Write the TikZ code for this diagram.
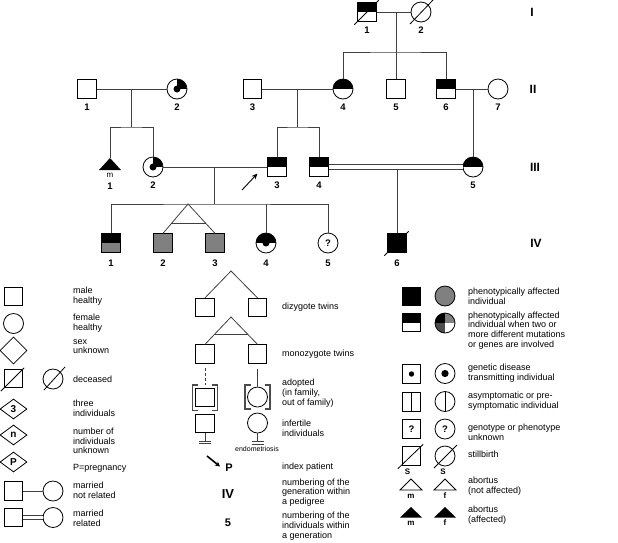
\documentclass[tikz,border=0pt]{standalone}
\usepackage{fontspec}
\setmainfont{Liberation Sans}
\usetikzlibrary{shapes.geometric,arrows.meta,calc}
\tikzset{
 sym/.style={draw=black, line width=0.8pt, inner sep=0pt, fill=white},
 msq/.style={sym, rectangle, minimum size=18.5pt},
 fci/.style={sym, circle, minimum size=20pt},
 dia/.style={sym, diamond, minimum width=27pt, minimum height=27pt},
 diaf/.style={sym, diamond, minimum width=27pt, minimum height=20pt, aspect=1.35, font=\bfseries\fontsize{10}{10}\selectfont},
 con/.style={draw=black!75, line width=0.8pt},
 slash/.style={draw=black, line width=0.8pt},
 brk/.style={draw=black!70, line width=1.3pt},
 tophalf/.style={path picture={\fill[black] (path picture bounding box.north west) rectangle (path picture bounding box.east);}},
 tophalfgray/.style={path picture={\fill[black] (path picture bounding box.north west) rectangle (path picture bounding box.east);
   \fill[gray] (path picture bounding box.west) rectangle (path picture bounding box.south east);}},
 tophalfdot/.style={path picture={\fill[black] (path picture bounding box.north west) rectangle (path picture bounding box.east);
   \fill[black] (path picture bounding box.center) circle (3.5pt);}},
 qdot/.style={path picture={\fill[black] (path picture bounding box.center) rectangle (path picture bounding box.north east);
   \fill[black] (path picture bounding box.center) circle (3.5pt);}},
 quad/.style={path picture={\fill[black] (path picture bounding box.center) rectangle (path picture bounding box.north west);
   \fill[gray] (path picture bounding box.center) rectangle (path picture bounding box.north east);
   \fill[black!70] (path picture bounding box.center) rectangle (path picture bounding box.south west);}},
 dotsm/.style={path picture={\fill[black] (path picture bounding box.center) circle (2.7pt);}},
 dotbig/.style={path picture={\fill[black] (path picture bounding box.center) circle (3.6pt);}},
 vline/.style={path picture={\draw[line width=0.8pt] (path picture bounding box.north) -- (path picture bounding box.south);}},
 qm/.style={font=\bfseries\fontsize{9.5}{10}\selectfont},
 lgt/.style={anchor=west, align=left, inner sep=0pt, font=\fontsize{9}{9.7}\selectfont},
 num/.style={inner sep=0pt, font=\bfseries\fontsize{9.5}{10}\selectfont},
 gen/.style={inner sep=0pt, font=\bfseries\fontsize{12}{12}\selectfont},
 smalllab/.style={inner sep=0pt, font=\bfseries\fontsize{8}{8}\selectfont},
}
\begin{document}
\begin{tikzpicture}[x=1pt,y=-1pt]
\useasboundingbox[fill=white] (0,0) rectangle (618,542);

% ---------------- Generation I
\node[msq,tophalf] (I1) at (367,12) {};
\node[fci] (I2) at (421,12) {};
\draw[slash] ($(I1.south west)+(-3,3)$) -- ($(I1.north east)+(2,-2)$);
\draw[slash] ($(I2.center)+(-11,12)$) -- ($(I2.center)+(12,-12)$);
\node[num] (nI1) at (367,30) {1};
\node[num] (nI2) at (421,30) {2};

% ---------------- Generation II
\node[msq] (II1) at (87,89) {};
\node[fci,qdot] (II2) at (177,89) {};
\node[msq] (II3) at (252.5,89) {};
\node[fci,tophalf] (II4) at (343,89) {};
\node[msq] (II5) at (396,89) {};
\node[msq,tophalf] (II6) at (446,89) {};
\node[fci] (II7) at (498,89) {};
\node[num] (nII1) at (87,107) {1};
\node[num] (nII2) at (177,107) {2};
\node[num] (nII3) at (252.5,107) {3};
\node[num] (nII4) at (343,107) {4};
\node[num] (nII5) at (396,107) {5};
\node[num] (nII6) at (446,107) {6};
\node[num] (nII7) at (498,107) {7};

% ---------------- Generation III
\coordinate (III1) at (110,158);
\fill (III1) -- ++(11,12) -- ++(-22,0) -- cycle;
\node[inner sep=0pt, font=\fontsize{8}{8}\selectfont] (mIII1) at (110,175.5) {m};
\node[fci,qdot] (III2) at (153,167) {};
\node[msq,tophalf] (III3) at (277,167) {};
\node[msq,tophalf] (III4) at (319,167) {};
\node[fci,tophalf] (III5) at (473,167) {};
\node[num] (nIII1) at (110,186) {1};
\node[num] (nIII2) at (153,185) {2};
\node[num] (nIII3) at (277,185) {3};
\node[num] (nIII4) at (319,185) {4};
\node[num] (nIII5) at (473,185) {5};

% ---------------- Generation IV
\node[msq,tophalfgray] (IV1) at (111,243) {};
\node[msq,fill=gray] (IV2) at (163,243) {};
\node[msq,fill=gray] (IV3) at (215,243) {};
\node[fci,tophalfdot] (IV4) at (266,243) {};
\node[fci,qm] (IV5) at (328,243) {?};
\node[msq,fill=black] (IV6) at (397,243) {};
\draw[slash] ($(IV6.south west)+(-3,3)$) -- ($(IV6.north east)+(2,-2)$);
\node[num] (nIV1) at (111,263) {1};
\node[num] (nIV2) at (163,263) {2};
\node[num] (nIV3) at (215,263) {3};
\node[num] (nIV4) at (266,263) {4};
\node[num] (nIV5) at (328,263) {5};
\node[num] (nIV6) at (397,263) {6};

% ---------------- connectors
\coordinate (m1) at (396,12); \coordinate (s1) at (396,52);
\draw[con] (I1) -- (I2);
\draw[con] (m1) -- (II5.north);
\draw[con] (II4.north) |- (s1) -| (II6.north);

\coordinate (m2) at (131,89); \coordinate (s2) at (131,127);
\draw[con] (II1) -- (II2);
\draw[con] (m2) -- (s2);
\draw[con] (III1) |- (s2) -| (III2.north);

\coordinate (m3) at (297,89); \coordinate (s3) at (297,127);
\draw[con] (II3) -- (II4);
\draw[con] (m3) -- (s3);
\draw[con] (III3.north) |- (s3) -| (III4.north);

\coordinate (m4) at (473,89);
\draw[con] (II6) -- (II7);
\draw[con] (m4) -- (III5.north);

\coordinate (m5) at (214,167); \coordinate (s5) at (214,204);
\draw[con] (III2) -- (III3);
\draw[con] (m5) -- (s5);
\draw[con] (IV1.north) |- (s5) -| (IV5.north);
\draw[con] (IV4.north) -- (IV4.north |- s5);
\coordinate (tw) at (188,204);
\draw[con] (IV2.north) -- (tw) -- (IV3.north);
\draw[con] ($(tw)!0.672!(IV2.north)$) -- ($(tw)!0.672!(IV3.north)$);

\draw[con,double,double distance=4.2pt] (III4) -- (III5);
\coordinate (m6) at (397,169.6);
\draw[con] (m6) -- (IV6.north);

\coordinate (arT) at (242,190); \coordinate (arH) at (257.5,173.5);
\draw[draw=black, line width=0.9pt, -{Stealth[length=6pt,width=5pt]}] (arT) -- (arH);

% generation labels
\node[gen] (gI) at (532,12) {I};
\node[gen] (gII) at (533,89) {II};
\node[gen] (gIII) at (535,167) {III};
\node[gen] (gIV) at (536,243) {IV};

% ================= LEGEND column 1
\node[msq] (Lm) at (13.5,296.5) {};
\node[lgt] (tLm) at (73,296.5) {male\\healthy};
\node[fci] (Lf) at (13.5,323.5) {};
\node[lgt] (tLf) at (73,323.5) {female\\healthy};
\node[dia] (Ld) at (13.5,350.5) {};
\node[lgt] (tLd) at (73,346.5) {sex\\unknown};
\node[msq] (Ldm) at (13.5,378.5) {};
\draw[slash] ($(Ldm.south west)+(-3,3)$) -- ($(Ldm.north east)+(1,-1)$);
\node[fci] (Ldf) at (53,379) {};
\draw[slash] ($(Ldf.center)+(-9,11)$) -- ($(Ldf.center)+(12,-12)$);
\node[lgt] (tLdc) at (73,379) {deceased};
\node[diaf] (L3) at (13.5,409) {3};
\node[lgt] (tL3) at (73,408.5) {three\\individuals};
\node[diaf] (Ln) at (13.5,435) {n};
\node[lgt] (tLn) at (73,441) {number of\\individuals\\unknown};
\node[diaf] (LP) at (13.5,462) {P};
\node[lgt] (tLP) at (73,468) {P=pregnancy};
\node[msq] (Lms) at (13.5,491) {};
\node[fci] (Lmc) at (53,491) {};
\draw[con] (Lms) -- (Lmc);
\node[lgt] (tLmar) at (73,490) {married\\not related};
\node[msq] (Lrs) at (13.5,517.5) {};
\node[fci] (Lrc) at (53,517.5) {};
\draw[con,double,double distance=3.3pt] (Lrs) -- (Lrc);
\node[lgt] (tLrel) at (73,518) {married\\related};

% ================= LEGEND column 2
\coordinate (dzA) at (231,271);
\node[msq] (dz1) at (205,307.5) {};
\node[msq] (dz2) at (257.5,307.5) {};
\draw[con] (dz1.north) -- (dzA) -- (dz2.north);
\node[lgt] (tdz) at (282,307.5) {dizygote twins};

\coordinate (mzA) at (231,317);
\node[msq] (mz1) at (205,354) {};
\node[msq] (mz2) at (257.5,354) {};
\draw[con] (mz1.north) -- (mzA) -- (mz2.north);
\draw[con] ($(mzA)!0.643!(mz1.north)$) -- ($(mzA)!0.643!(mz2.north)$);
\node[lgt] (tmz) at (282,354) {monozygote twins};

\node[msq] (ad1) at (205,397.5) {};
\node[fci] (ad2) at (257.5,397) {};
\draw[brk] ($(ad1.north west)+(3,-3)$) -- ++(-6,0) -- ($(ad1.south west)+(-3,3)$) -- ++(6,0);
\draw[brk] ($(ad1.north east)+(-3,-3)$) -- ++(6,0) -- ($(ad1.south east)+(3,3)$) -- ++(-6,0);
\draw[brk] ($(ad2.center)+(-7,-12)$) -- ++(-5.5,0) -- ++(0,24) -- ++(5.5,0);
\draw[brk] ($(ad2.center)+(7,-12)$) -- ++(5.5,0) -- ++(0,24) -- ++(-5.5,0);
\coordinate (ad1t) at (205,368);
\draw[con,dash pattern=on 3pt off 2pt] (ad1t) -- ($(ad1.north)+(0,-3)$);
\coordinate (ad2t) at (257.5,369);
\draw[con] (ad2t) -- (ad2.north);
\node[lgt] (tad) at (282,393) {adopted\\(in family,\\out of family)};

\node[msq] (inf1) at (205,423.5) {};
\node[fci] (inf2) at (257.5,423) {};
\coordinate (inf1b) at ($(inf1.south)+(0,8)$);
\coordinate (inf2b) at ($(inf2.south)+(0,8)$);
\draw[con] (inf1.south) -- (inf1b);
\draw[con] (inf2.south) -- (inf2b);
\draw[con] ($(inf1b)+(-6,0)$) -- ++(12,0);
\draw[con] ($(inf1b)+(-6,2.6)$) -- ++(12,0);
\draw[con] ($(inf2b)+(-6,0)$) -- ++(12,0);
\draw[con] ($(inf2b)+(-6,2.6)$) -- ++(12,0);
\node[inner sep=0pt, font=\fontsize{7}{7}\selectfont] (tendo) at (257,449) {endometriosis};
\node[lgt] (tinf) at (282,428.5) {infertile\\individuals};

\coordinate (ixT) at (207,456); \coordinate (ixH) at (220,466.5);
\draw[draw=black, line width=1.6pt, -{Stealth[length=5pt,width=5pt]}] (ixT) -- (ixH);
\node[inner sep=0pt, font=\bfseries\fontsize{11}{11}\selectfont] (ixP) at (229,468) {P};
\node[lgt] (tix) at (282,467) {index patient};
\node[inner sep=0pt, font=\bfseries\fontsize{13}{13}\selectfont] (lgIV) at (228,494) {IV};
\node[lgt] (tgen) at (282,492.5) {numbering of the\\generation within\\a pedigree};
\node[inner sep=0pt, font=\bfseries\fontsize{11}{11}\selectfont] (lg5) at (228,522.5) {5};
\node[lgt] (tind) at (282,526) {numbering of the\\individuals within\\a generation};

% ================= LEGEND column 3
\node[msq,fill=black] (Ca) at (411.5,296.5) {};
\node[fci,fill=gray] (Cb) at (445,296) {};
\node[lgt] (tCa) at (468,296) {phenotypically affected\\individual};
\node[msq,tophalf] (Cc) at (411.5,322.5) {};
\node[fci,quad] (Cd) at (445,323) {};
\node[lgt] (tCc) at (468,330.5) {phenotypically affected\\individual when two or\\more different mutations\\or genes are involved};
\node[msq,dotsm] (Ce) at (411.5,374) {};
\node[fci,dotbig] (Cf) at (445,373.5) {};
\node[lgt] (tCe) at (468,373.5) {genetic disease\\transmitting individual};
\node[msq,vline] (Cg) at (411.5,402) {};
\node[fci,vline] (Ch) at (445,401.5) {};
\node[lgt] (tCg) at (468,401.5) {asymptomatic or pre-\\symptomatic individual};
\node[msq,qm] (Ci) at (411.5,429) {?};
\node[fci,qm] (Cj) at (445,429) {?};
\node[lgt] (tCi) at (468,432) {genotype or phenotype\\unknown};
\node[msq] (Ck) at (411.5,456) {};
\draw[slash] ($(Ck.south west)+(-4,3)$) -- ($(Ck.north east)+(2,-2)$);
\node[fci] (Cl) at (445,456) {};
\draw[slash] ($(Cl.center)+(-11,12)$) -- ($(Cl.center)+(12,-11)$);
\node[smalllab] (SCk) at (407.5,471.5) {S};
\node[smalllab] (SCl) at (443,471.5) {S};
\node[lgt] (tCk) at (468,454.5) {stillbirth};

\coordinate (ab1) at (411,479); \coordinate (ab2) at (445,479);
\draw[slash] (ab1) -- ++(11,11) -- ++(-22,0) -- cycle;
\draw[slash] (ab2) -- ++(11,11) -- ++(-22,0) -- cycle;
\node[smalllab] (mab1) at (411,496) {m};
\node[smalllab] (fab2) at (445,496) {f};
\node[lgt] (tab1) at (468,486.5) {abortus\\(not affected)};
\coordinate (ab3) at (411,507); \coordinate (ab4) at (445,507);
\fill (ab3) -- ++(11,10.5) -- ++(-22,0) -- cycle;
\fill (ab4) -- ++(11,10.5) -- ++(-22,0) -- cycle;
\node[smalllab] (mab3) at (411,523) {m};
\node[smalllab] (fab4) at (445,523) {f};
\node[lgt] (tab3) at (468,515) {abortus\\(affected)};
\end{tikzpicture}
\end{document}
